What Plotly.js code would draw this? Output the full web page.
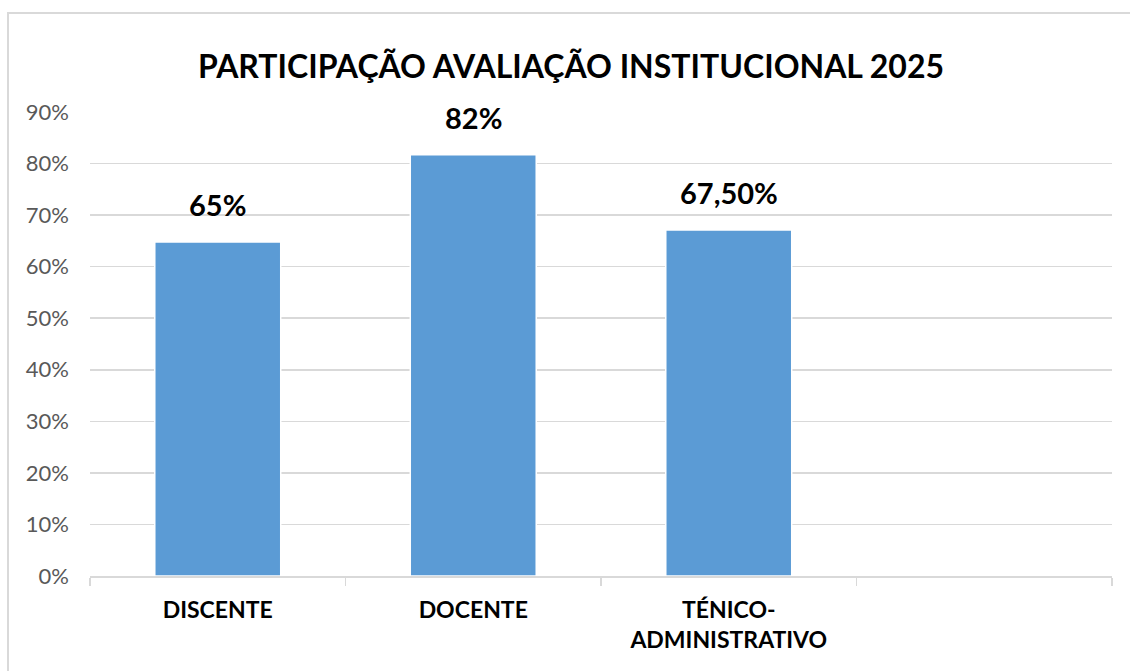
<!DOCTYPE html>
<html>
<head>
<meta charset="utf-8">
<script src="https://cdn.plot.ly/plotly-3.0.1.min.js"></script>
<style>
  html, body { margin: 0; padding: 0; background: #fff; }
  #wrap { position: relative; width: 1130px; height: 671px; overflow: hidden; }
  #chart { position: absolute; left: 0; top: 0; width: 1130px; height: 671px; }
  #frame { position: absolute; left: 7px; top: 12px; width: 1200px; height: 800px; border: 2px solid #d9d9d9; box-sizing: border-box; pointer-events: none; }
</style>
</head>
<body>
<div id="wrap">
  <div id="chart"></div>
  <div id="frame"></div>
</div>
<script>
const categories = ["DISCENTE", "DOCENTE", "TÉNICO-<br>ADMINISTRATIVO", " "];
const values = [0.648, 0.817, 0.671, null];
const labels = ["65%", "82%", "67,50%", ""];
const yTicks = [0, 0.1, 0.2, 0.3, 0.4, 0.5, 0.6, 0.7, 0.8, 0.9];
const chartTitle = "PARTICIPAÇÃO AVALIAÇÃO INSTITUCIONAL 2025";

const FONT = "Lato, 'Open Sans', sans-serif";

const trace = {
  type: "bar",
  x: categories,
  y: values,
  marker: { color: "#5b9bd5", line: { color: "#ffffff", width: 1.5 } },
  hoverinfo: "skip"
};

const annotations = categories
  .map((c, i) => ({ c, v: values[i], t: labels[i] }))
  .filter(d => d.v !== null && d.t)
  .map(d => ({
    x: d.c, y: d.v, xref: "x", yref: "y",
    text: "<b>" + d.t + "</b>",
    showarrow: false,
    yanchor: "bottom",
    yshift: 18,
    font: { family: FONT, size: 29, color: "#000" }
  }));

const layout = {
  width: 1130,
  height: 671,
  margin: { l: 90, r: 18, t: 112, b: 95 },
  paper_bgcolor: "#ffffff",
  plot_bgcolor: "#ffffff",
  bargap: 0.507,
  showlegend: false,
  annotations: annotations,
  title: {
    text: "<b>" + chartTitle + "</b>",
    font: { family: FONT, size: 32, color: "#000" },
    x: 571 / 1130, xref: "container", xanchor: "center",
    y: 1 - 67 / 671, yref: "container", yanchor: "middle"
  },
  xaxis: {
    type: "category",
    range: [-0.5, 3.5],
    tickson: "boundaries",
    ticks: "outside",
    ticklen: 8,
    tickwidth: 1.5,
    tickcolor: "#d9d9d9",
    showline: true,
    linecolor: "#d9d9d9",
    linewidth: 1.5,
    showgrid: false,
    zeroline: false,
    ticklabelstandoff: 13,
    tickfont: { family: FONT, size: 23, color: "#000", weight: "bold" },
    fixedrange: true
  },
  yaxis: {
    range: [0, 0.9],
    tickvals: yTicks,
    tickformat: ".0%",
    showgrid: true,
    gridcolor: "#d9d9d9",
    gridwidth: 1.5,
    zeroline: false,
    showline: false,
    ticks: "",
    ticklabelstandoff: 20,
    tickfont: { family: FONT, size: 22, color: "#595959" },
    fixedrange: true
  }
};

Plotly.newPlot("chart", [trace], layout, { displayModeBar: false, staticPlot: true });
</script>
</body>
</html>
